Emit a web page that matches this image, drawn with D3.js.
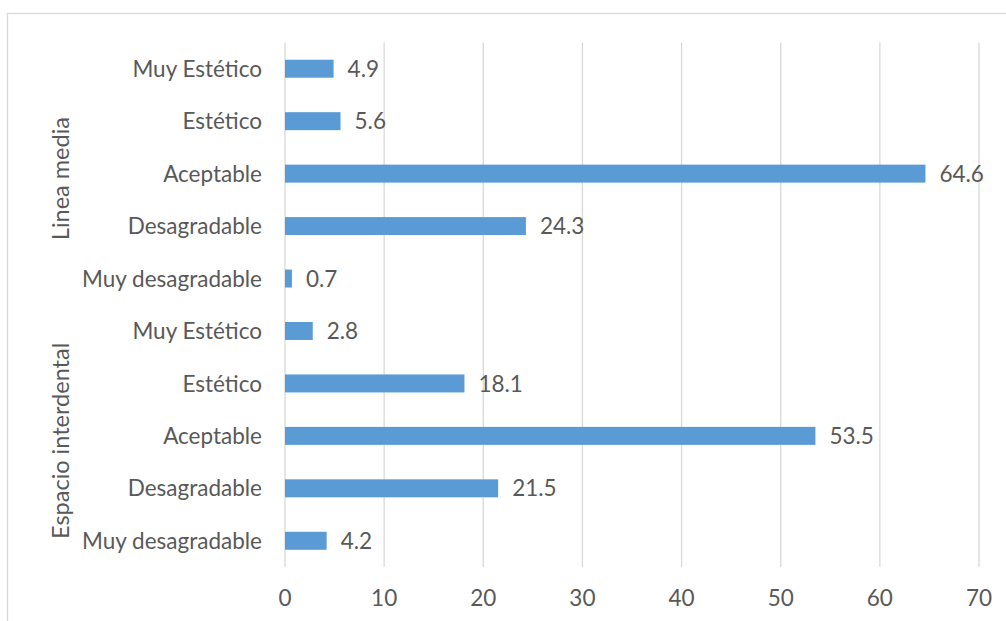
<!DOCTYPE html>
<html>
<head>
<meta charset="utf-8">
<script src="https://cdn.jsdelivr.net/npm/d3@7"></script>
<style>
  html, body { margin: 0; padding: 0; background: #fff; }
  svg { display: block; }
  text { font-family: Lato, "Open Sans", sans-serif; fill: #595959; }
</style>
</head>
<body>
<svg id="chart" width="1006" height="621"></svg>
<script>
// Categories, top to bottom, with their group
const groups = ["Linea media", "Espacio interdental"];
const categories = ["Muy Estético", "Estético", "Aceptable", "Desagradable", "Muy desagradable"];
const lineaMedia = [4.9, 5.6, 64.6, 24.3, 0.7];
const espacioInterdental = [2.8, 18.1, 53.5, 21.5, 4.2];
const xTicks = [0, 10, 20, 30, 40, 50, 60, 70];

const rows = [];
[lineaMedia, espacioInterdental].forEach((vals, g) => {
  categories.forEach((c, i) => rows.push({ key: g + "-" + i, group: groups[g], cat: c, value: vals[i] }));
});

const svg = d3.select("#chart");
const plot = { left: 285, right: 979, top: 42.5, bottom: 567 };
const fontSize = 22.5;

// Outer chart frame
svg.append("rect")
  .attr("x", 7.5).attr("y", 13.5)
  .attr("width", 1200).attr("height", 800)
  .attr("fill", "none").attr("stroke", "#D9D9D9").attr("stroke-width", 1.3);

const x = d3.scaleLinear().domain([0, 70]).range([plot.left, plot.right]);
const y = d3.scaleBand().domain(rows.map(d => d.key))
  .range([plot.top, plot.bottom]).paddingInner(0.657).paddingOuter(0.657 / 2);

// Vertical gridlines
svg.append("g").selectAll("line").data(xTicks).join("line")
  .attr("x1", d => x(d)).attr("x2", d => x(d))
  .attr("y1", plot.top).attr("y2", plot.bottom)
  .attr("stroke", "#D9D9D9").attr("stroke-width", 1.3);

// Bars
svg.append("g").selectAll("rect").data(rows).join("rect")
  .attr("x", x(0)).attr("y", d => y(d.key))
  .attr("width", d => x(d.value) - x(0)).attr("height", y.bandwidth())
  .attr("fill", "#5B9BD5");

// Value labels
svg.append("g").selectAll("text").data(rows).join("text")
  .attr("x", d => x(d.value) + 14).attr("y", d => y(d.key) + y.bandwidth() / 2)
  .attr("dy", "0.36em")
  .style("font-size", fontSize + "px")
  .text(d => d.value.toFixed(1));

// Category labels
svg.append("g").selectAll("text").data(rows).join("text")
  .attr("x", 262).attr("y", d => y(d.key) + y.bandwidth() / 2)
  .attr("dy", "0.36em").attr("text-anchor", "end")
  .style("font-size", fontSize + "px")
  .text(d => d.cat);

// Group labels, rotated
const groupCenters = groups.map(g => {
  const ks = rows.filter(r => r.group === g).map(r => r.key);
  return { g, c: (y(ks[0]) + y(ks[ks.length - 1]) + y.bandwidth()) / 2 + 5 };
});
svg.append("g").selectAll("text").data(groupCenters).join("text")
  .attr("transform", d => `translate(61,${d.c}) rotate(-90)`)
  .attr("dy", "0.36em").attr("text-anchor", "middle")
  .style("font-size", "23.5px")
  .text(d => d.g);

// X tick labels
svg.append("g").selectAll("text").data(xTicks).join("text")
  .attr("x", d => x(d)).attr("y", 598)
  .attr("dy", "0.36em").attr("text-anchor", "middle")
  .style("font-size", fontSize + "px")
  .text(d => d);
</script>
</body>
</html>
